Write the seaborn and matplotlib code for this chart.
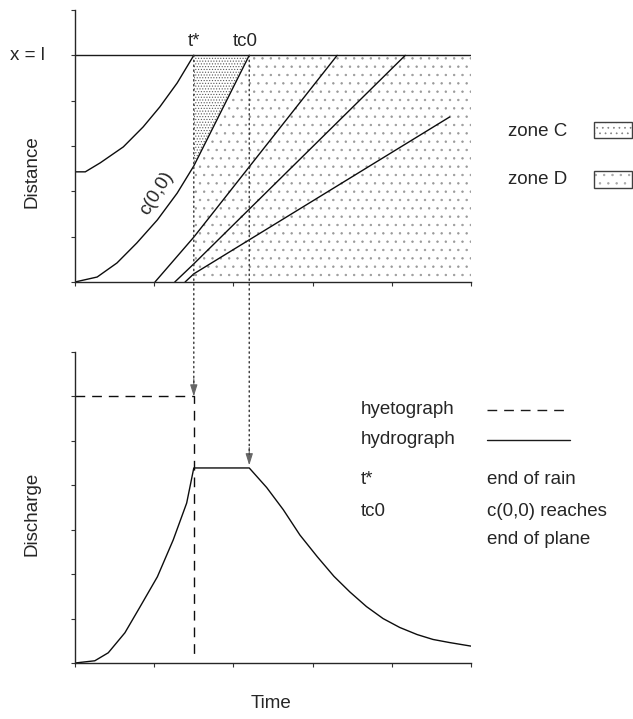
import numpy as np
import pandas as pd
import matplotlib
matplotlib.use("Agg")
import matplotlib.pyplot as plt
import seaborn as sns
from matplotlib.patches import Polygon, Rectangle, ConnectionPatch
from matplotlib.lines import Line2D

sns.set_style("white")
plt.rcParams['font.family'] = ['Liberation Sans', 'DejaVu Sans']
plt.rcParams['hatch.linewidth'] = 0.5

# ---------------- data ----------------
t_star = 1.5          # end of rain
tc0 = 2.2             # c(0,0) reaches end of plane
x_l = 5.0             # end of plane (distance)

# characteristics (distance-time plane)
char_upper_t = [0.0, 0.13, 0.32, 0.61, 0.86, 1.07, 1.29, 1.5]
char_upper_x = [2.43, 2.43, 2.63, 2.98, 3.42, 3.86, 4.39, 5.0]

c00_t = [0.0, 0.28, 0.53, 0.78, 1.04, 1.29, 1.5, 2.2]
c00_x = [0.0, 0.11, 0.42, 0.86, 1.37, 1.96, 2.56, 5.0]

char1_t = [1.01, 1.5, 3.31]
char1_x = [0.0, 0.99, 5.0]
char2_t = [1.26, 1.5, 4.17]
char2_x = [0.0, 0.4, 5.0]
char3_t = [1.39, 1.5, 4.73]
char3_x = [0.0, 0.18, 3.64]

# zones
zoneC_t = [t_star, t_star, tc0]
zoneC_x = [2.56, 5.0, 5.0]
zoneD_t = [t_star, t_star, tc0, 5.0, 5.0]
zoneD_x = [0.0, 2.56, 5.0, 5.0, 0.0]

# hyetograph / hydrograph
hyeto_t = [0.0, 1.5, 1.5]
hyeto_q = [6.0, 6.0, 0.18]

hydro_t = [0.0, 0.25, 0.42, 0.63, 0.82, 1.04, 1.24, 1.41, 1.5, 2.2,
           2.42, 2.63, 2.84, 3.06, 3.27, 3.47, 3.68, 3.89, 4.1, 4.32, 4.52, 4.73, 5.0]
hydro_q = [0.0, 0.05, 0.23, 0.68, 1.26, 1.94, 2.77, 3.6, 4.39, 4.39,
           3.95, 3.45, 2.88, 2.39, 1.95, 1.6, 1.27, 1.0, 0.8, 0.64, 0.53, 0.46, 0.38]

xticks = [0, 1, 2, 3, 4, 5]
yticks_top = [0, 1, 2, 3, 4, 5, 6]
yticks_bot = [0, 1, 2, 3, 4, 5, 6, 7]

# ---------------- figure ----------------
W, H = 633, 719
fig = plt.figure(figsize=(W / 100, H / 100), dpi=100)

def fx(px):
    return px / W

def fy(py):
    return 1 - py / H

ax1 = fig.add_axes([fx(75), fy(282), fx(471) - fx(75), fy(10) - fy(282)])
ax2 = fig.add_axes([fx(75), fy(663), fx(471) - fx(75), fy(352) - fy(663)])

FS = 13.5
lw = 1.0

for ax, yt in ((ax1, yticks_top), (ax2, yticks_bot)):
    ax.set_xlim(0, 5)
    ax.set_ylim(min(yt), max(yt))
    ax.set_xticks(xticks)
    ax.set_yticks(yt)
    ax.set_xticklabels([])
    ax.set_yticklabels([])
    ax.tick_params(direction='out', length=3, width=0.8, color='0.2',
                   bottom=True, left=True)
    ax.spines['top'].set_visible(False)
    ax.spines['right'].set_visible(False)
    for s in ('left', 'bottom'):
        ax.spines[s].set_color('0.15')
        ax.spines[s].set_linewidth(1.0)
    ax.patch.set_alpha(0)

# zones
ax1.add_patch(Polygon(list(zip(zoneD_t, zoneD_x)), closed=True, facecolor='none',
                      edgecolor='0.6', hatch='..', linewidth=0, zorder=1))
ax1.add_patch(Polygon(list(zip(zoneC_t, zoneC_x)), closed=True, facecolor='none',
                      edgecolor='0.35', hatch='......', linewidth=0, zorder=1))

# x = l line
ax1.axhline(x_l, color='0.1', lw=lw, zorder=2)

def line(ax, xs, ys, **kw):
    df = pd.DataFrame({'t': xs, 'v': ys})
    sns.lineplot(data=df, x='t', y='v', ax=ax, estimator=None, sort=False,
                 color='0.05', lw=lw, **kw)

line(ax1, char_upper_t, char_upper_x)
line(ax1, c00_t, c00_x)
line(ax1, char1_t, char1_x)
line(ax1, char2_t, char2_x)
line(ax1, char3_t, char3_x)

line(ax2, hyeto_t, hyeto_q, dashes=False, linestyle=(0, (7, 5)))
line(ax2, hydro_t, hydro_q)

for ax in (ax1, ax2):
    ax.set_xlabel('')
    ax.set_ylabel('')

# dotted connectors with arrows
for tt, ytarget in ((t_star, 6.0), (tc0, 4.45)):
    con = ConnectionPatch(xyA=(tt, x_l), coordsA=ax1.transData,
                          xyB=(tt, ytarget + 0.25), coordsB=ax2.transData,
                          arrowstyle='-', linestyle=(0, (1, 2.5)), color='0.2', lw=1.0)
    fig.add_artist(con)
    ax2.annotate('', xy=(tt, ytarget), xytext=(tt, ytarget + 0.4),
                 arrowprops=dict(arrowstyle='-|>,head_length=0.7,head_width=0.22',
                                 color='0.4', lw=0.8, shrinkA=0, shrinkB=0))

# texts in top axes
ax1.text(t_star, 5.3, 't*', ha='center', va='center', fontsize=FS)
ax1.text(tc0 - 0.05, 5.3, 'tc0', ha='center', va='center', fontsize=FS)
ax1.text(-0.38, x_l, 'x = l', ha='right', va='center', fontsize=FS)
ax1.text(1.03, 1.96, 'c(0,0)', ha='center', va='center', fontsize=FS, rotation=58)

# axis labels
fig.text(fx(32), fy(172), 'Distance', rotation=90, ha='center', va='center', fontsize=FS)
fig.text(fx(32), fy(514), 'Discharge', rotation=90, ha='center', va='center', fontsize=FS)
fig.text(fx(271), fy(703), 'Time', ha='center', va='center', fontsize=FS)

# zone legend
fig.text(fx(508), fy(132), 'zone C', ha='left', va='center', fontsize=FS)
fig.text(fx(508), fy(180), 'zone D', ha='left', va='center', fontsize=FS)
for top, bot, hcol, hpat in ((122, 138, '0.5', '...'), (171, 188, '0.65', '..')):
    rect = (fx(594), fy(bot))
    w, h = fx(632) - fx(594), fy(top) - fy(bot)
    fig.add_artist(Rectangle(rect, w, h, transform=fig.transFigure, facecolor='white',
                             edgecolor=hcol, hatch=hpat, lw=0))
    fig.add_artist(Rectangle(rect, w, h, transform=fig.transFigure, facecolor='none',
                             edgecolor='0.25', lw=1.0))

# lower legend
fig.text(fx(361), fy(410), 'hyetograph', ha='left', va='center', fontsize=FS)
fig.text(fx(361), fy(440), 'hydrograph', ha='left', va='center', fontsize=FS)
fig.text(fx(361), fy(480), 't*', ha='left', va='center', fontsize=FS)
fig.text(fx(361), fy(512), 'tc0', ha='left', va='center', fontsize=FS)
fig.text(fx(487), fy(480), 'end of rain', ha='left', va='center', fontsize=FS)
fig.text(fx(487), fy(512), 'c(0,0) reaches', ha='left', va='center', fontsize=FS)
fig.text(fx(487), fy(540), 'end of plane', ha='left', va='center', fontsize=FS)
fig.add_artist(Line2D([fx(487), fx(570)], [fy(410), fy(410)], transform=fig.transFigure,
                      color='0.1', lw=1.0, linestyle=(0, (7, 5))))
fig.add_artist(Line2D([fx(487), fx(570)], [fy(440), fy(440)], transform=fig.transFigure,
                      color='0.1', lw=1.0))

fig.savefig('out.png', dpi=100, facecolor='white')
